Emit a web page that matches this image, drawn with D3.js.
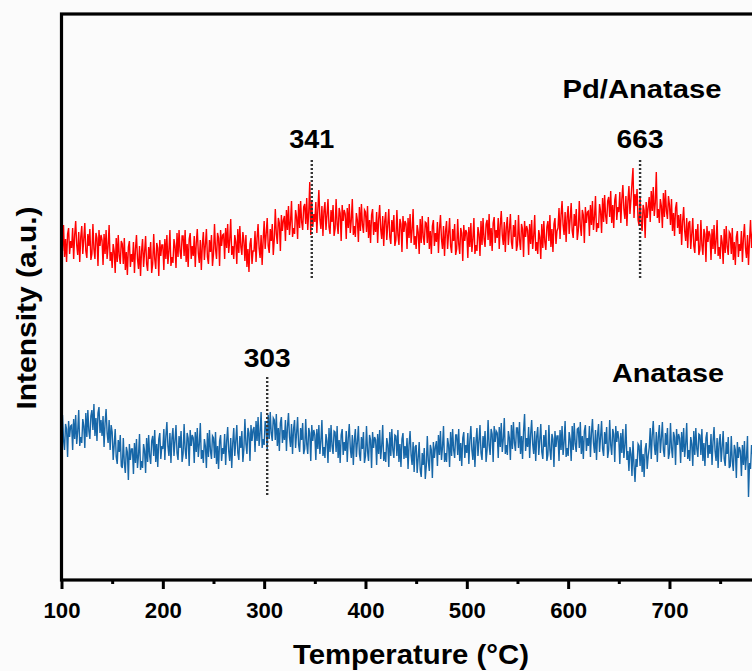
<!DOCTYPE html>
<html><head><meta charset="utf-8">
<script src="https://cdn.jsdelivr.net/npm/d3@7"></script>
<style>
html,body{margin:0;padding:0;background:#fbfbfb;overflow:hidden;}
text{font-family:"Liberation Sans",Arial,sans-serif;font-weight:bold;fill:#000;}
</style></head>
<body>
<svg id="chart" width="752" height="671"></svg>
<script>
// Temperature grid (°C): one sample per 1 °C starting at 100
const tStart = 100, tStep = 1;
// Pd/Anatase signal (a.u.)
const pdAnatase = [
347,327,353,321,339,316,344,350,324,337,
330,350,319,343,357,333,323,346,316,341,
352,324,339,355,327,320,344,332,349,318,
324,354,329,319,345,340,312,348,332,343,
338,313,344,324,348,319,332,353,317,326,
310,334,327,305,340,316,343,322,314,337,
334,314,340,308,326,303,331,337,311,324,
316,336,305,329,343,319,309,332,302,327,
339,311,326,342,314,307,331,319,336,305,
314,344,319,309,335,330,302,338,322,333,
333,308,339,319,343,314,327,348,312,321,
315,339,332,310,345,321,348,327,319,342,
342,322,348,316,334,311,339,345,319,332,
322,342,311,335,349,325,315,338,308,333,
346,318,333,349,321,314,338,326,343,312,
324,354,329,319,345,340,312,348,332,343,
344,319,350,330,354,325,338,359,323,332,
319,343,336,314,349,325,352,331,323,346,
337,317,343,311,329,306,334,340,314,327,
327,347,316,340,354,330,320,343,313,338,
357,329,344,360,332,325,349,337,354,323,
339,369,344,334,360,355,327,363,347,358,
362,337,368,348,372,343,356,377,341,350,
344,368,361,339,374,350,377,356,348,371,
374,354,380,348,366,396,343,377,351,364,
356,376,345,369,388,359,349,372,342,367,
376,348,363,379,351,344,368,356,373,342,
349,379,354,344,370,365,337,373,357,368,
364,339,370,350,374,345,358,379,343,352,
341,365,358,336,371,347,374,353,345,368,
366,346,372,340,358,335,363,369,343,356,
346,366,335,359,373,349,339,362,332,357,
366,338,353,369,341,334,358,346,363,332,
338,368,343,333,359,354,326,362,346,357,
354,329,360,340,364,335,348,369,333,342,
329,353,346,324,359,335,362,341,333,356,
355,335,361,329,347,324,352,358,332,345,
336,356,325,349,363,339,329,352,322,347,
357,329,344,360,332,325,349,337,354,323,
329,359,334,324,350,345,317,353,337,348,
345,320,351,331,355,326,339,360,324,333,
327,351,344,322,357,333,360,339,331,354,
358,338,364,332,350,327,355,361,335,348,
340,360,329,353,367,343,333,356,326,351,
361,333,348,364,336,329,353,341,358,327,
333,363,338,328,354,349,321,357,341,352,
348,323,354,334,358,329,342,363,327,336,
324,348,341,319,354,330,357,336,328,351,
357,337,363,331,349,326,354,360,334,347,
350,370,339,363,377,353,343,366,336,361,
372,344,359,375,347,340,364,352,369,338,
347,377,352,342,368,363,335,371,355,366,
367,342,373,353,377,348,361,382,346,355,
350,374,367,345,380,356,383,362,354,377,
381,361,387,355,373,350,378,384,358,371,
366,386,355,379,393,369,359,382,352,377,
392,364,379,395,410,360,384,372,389,358,
352,382,357,347,373,368,340,376,360,371,
381,356,387,367,391,362,375,406,360,369,
355,379,372,350,385,361,388,367,359,382,
373,353,379,347,365,342,370,376,350,363,
344,364,333,357,371,347,337,360,330,355,
357,329,344,360,332,325,349,337,354,323,
328,358,333,323,349,344,316,352,336,347,
343,318,349,329,353,324,337,358,322,331,
319,343,336,314,349,325,352,331,323,346,
344,324,350,318,336,313,341,347,321,334,
327,347,316,340,354,330,320,343,313,338,
358,330,345,361,333,326,350,338,355,331
];
// Anatase signal (a.u.)
const anatase = [
133,163,138,128,154,149,121,157,141,152,
153,128,159,139,163,134,147,168,132,141,
135,159,152,130,165,141,168,147,139,162,
168,148,174,142,160,137,165,171,145,158,
142,162,131,155,169,145,135,158,128,153,
146,118,133,149,121,114,138,126,143,112,
110,140,115,105,131,126,98,134,118,129,
129,104,135,115,139,110,123,144,108,117,
110,134,127,105,140,116,143,122,114,137,
142,122,148,116,134,111,139,145,119,132,
129,149,118,142,156,132,122,145,115,140,
150,122,137,153,125,118,142,130,147,116,
124,154,129,119,145,140,112,148,132,143,
140,115,146,126,150,121,134,155,119,128,
115,139,132,110,145,121,148,127,119,142,
140,120,146,114,132,109,137,143,117,130,
124,144,113,137,151,127,117,140,110,135,
150,122,137,153,125,118,142,130,147,116,
129,159,134,124,150,145,117,153,137,148,
151,126,157,137,161,132,145,166,130,139,
133,157,150,128,163,139,166,145,137,160,
158,138,164,132,150,127,155,161,135,148,
138,158,127,151,165,141,131,154,124,149,
158,130,145,161,133,126,150,138,155,124,
129,159,134,124,150,145,117,153,137,148,
143,118,149,129,153,124,137,158,122,131,
120,144,137,115,150,126,153,132,124,147,
146,126,152,120,138,115,143,149,123,136,
127,147,116,140,154,130,120,143,113,138,
149,121,136,152,124,117,141,129,146,115,
122,152,127,117,143,138,110,146,130,141,
138,113,144,124,148,119,132,153,117,126,
116,140,133,111,146,122,149,128,120,143,
142,122,148,116,134,111,139,145,119,132,
120,140,109,133,147,123,113,136,106,131,
133,105,120,136,108,101,125,113,130,99,
112,142,117,107,133,128,100,136,120,131,
137,112,143,123,147,118,131,152,116,125,
116,140,133,111,146,122,149,128,120,143,
143,123,149,117,135,112,140,146,120,133,
125,145,114,138,152,128,118,141,111,136,
150,122,137,153,125,118,142,130,147,116,
128,158,133,123,149,144,116,152,136,147,
145,120,151,131,155,126,139,160,124,133,
123,147,140,118,153,129,156,135,127,150,
150,130,156,124,142,119,147,164,127,140,
131,151,120,144,158,134,124,147,117,142,
151,123,138,154,126,119,143,131,148,117,
123,153,128,118,144,139,111,147,131,142,
142,117,148,128,152,123,136,157,121,130,
122,146,139,117,152,128,155,134,126,149,
150,130,156,124,142,119,147,153,127,140,
132,152,121,145,159,135,125,148,118,143,
154,126,141,157,129,122,146,134,151,120,
128,158,133,123,149,144,116,152,136,147,
139,114,145,125,149,120,133,154,118,127,
107,131,124,102,137,113,96,119,111,134,
132,112,138,106,124,101,129,135,109,122,
130,150,119,143,157,133,123,146,116,141,
153,125,140,156,128,121,145,133,150,119,
125,155,130,120,146,141,113,149,133,144,
140,115,146,126,150,121,134,155,119,128,
117,141,134,112,147,123,150,129,121,144,
143,123,149,117,135,112,140,146,120,133,
124,144,113,137,151,127,117,140,110,135,
144,116,131,147,119,112,136,124,141,110,
112,142,117,107,133,128,100,136,120,131,
127,102,133,113,137,108,121,142,81,115,
109,133,126,104,139,115,142,121,113,136
];
// x-axis ticks
const xMajorTicks = [100,200,300,400,500,600,700];
const xMinorTicks = [150,250,350,450,550,650,750];
// peak annotations
const peakLabels = ["341","663","303"];
const peakPos    = [347,671,303];
const peakTop    = [418,418,201];
const peakBottom = [300,300,83];
const peakText   = [430,430,211];
// series names
const seriesNames = ["Pd/Anatase","Anatase"];
const seriesNameX = [642,668];
const seriesNameY = [480,196];

const svg = d3.select("#chart");
const x = d3.scaleLinear().domain([100,800]).range([61.5,770.8]);
const y = d3.scaleLinear().domain([0,564]).range([578,14]);

const toPts = arr => arr.map((v,i)=>({t:tStart+i*tStep, v}));
const line = d3.line().x(d=>x(d.t)).y(d=>y(d.v));

svg.append("path").datum(toPts(pdAnatase)).attr("d",line)
  .attr("fill","none").attr("stroke","#ff0000").attr("stroke-width",1.4);
svg.append("path").datum(toPts(anatase)).attr("d",line)
  .attr("fill","none").attr("stroke","#1767a8").attr("stroke-width",1.4);

// peak dotted lines + labels
const labelW = {"341":45,"663":47,"303":47,"Pd/Anatase":159,"Anatase":112};
peakLabels.forEach((lab,i)=>{
  svg.append("line").attr("x1",x(peakPos[i])).attr("x2",x(peakPos[i]))
    .attr("y1",y(peakTop[i])).attr("y2",y(peakBottom[i]))
    .attr("stroke","#333").attr("stroke-width",2.4).attr("stroke-dasharray","2,2");
  svg.append("text").attr("x",x(peakPos[i])).attr("y",y(peakText[i]))
    .attr("text-anchor","middle").attr("font-size",26)
    .attr("textLength",labelW[lab]).attr("lengthAdjust","spacingAndGlyphs").text(lab);
});
seriesNames.forEach((n,i)=>{
  svg.append("text").attr("x",seriesNameX[i]).attr("y",y(seriesNameY[i]))
    .attr("text-anchor","middle").attr("font-size",26)
    .attr("textLength",labelW[n]).attr("lengthAdjust","spacingAndGlyphs").text(n);
});

// frame
svg.append("rect").attr("x",61.5).attr("y",14).attr("width",709.3).attr("height",566)
  .attr("fill","none").attr("stroke","#000").attr("stroke-width",3.2);

// x axis
const xAxis = d3.axisBottom(x).tickValues(xMajorTicks).tickSize(9).tickPadding(7).tickFormat(d3.format("d"));
const gx = svg.append("g").attr("transform","translate(0,580)").call(xAxis);
gx.select(".domain").remove();
gx.selectAll(".tick line").attr("stroke","#000").attr("stroke-width",3);
gx.selectAll(".tick text").attr("font-size",22).attr("dy","1.0em").attr("fill","#000")
  .attr("textLength",37).attr("lengthAdjust","spacingAndGlyphs")
  .style("font-family","'Liberation Sans',Arial,sans-serif").style("font-weight","bold");
const xMinor = d3.axisBottom(x).tickValues(xMinorTicks).tickSize(4).tickFormat("");
const gxm = svg.append("g").attr("transform","translate(0,580)").call(xMinor);
gxm.select(".domain").remove();
gxm.selectAll(".tick line").attr("stroke","#000").attr("stroke-width",3);

// axis titles
svg.append("text").attr("x",411).attr("y",664).attr("text-anchor","middle")
  .attr("font-size",28).attr("textLength",236).attr("lengthAdjust","spacingAndGlyphs")
  .text("Temperature (°C)");
svg.append("text").attr("transform","translate(36,308) rotate(-90)")
  .attr("text-anchor","middle").attr("font-size",27)
  .attr("textLength",203).attr("lengthAdjust","spacingAndGlyphs").text("Intensity (a.u.)");
</script>
</body></html>
